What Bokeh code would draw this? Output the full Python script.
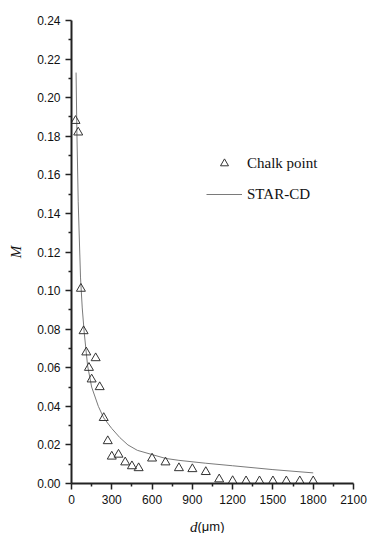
from bokeh.plotting import figure
from bokeh.layouts import column
from bokeh.models import (Range1d, FixedTicker, NumeralTickFormatter, Legend, LegendItem)
from bokeh.core.properties import value
from bokeh.embed import file_html
from bokeh.resources import INLINE

# Chalk point measurements (d in micrometres, M)
chalk_d = [30, 50, 70, 90, 110, 130, 150, 180, 210, 240, 270, 300, 350, 400, 450, 500,
           600, 700, 800, 900, 1000, 1100, 1200, 1300, 1400, 1500, 1600, 1700, 1800]
chalk_m = [0.188, 0.182, 0.101, 0.079, 0.068, 0.060, 0.054, 0.065, 0.050, 0.034, 0.022,
           0.014, 0.015, 0.011, 0.009, 0.008, 0.013, 0.011, 0.008, 0.0075, 0.006, 0.0022,
           0.0013, 0.0012, 0.0012, 0.0012, 0.0012, 0.0012, 0.0012]

# STAR-CD simulation curve
star_d = [34, 40, 50, 67, 80, 95, 120, 150, 200, 240, 300, 360, 420, 490, 600, 700, 800,
          1000, 1200, 1500, 1800]
star_m = [0.213, 0.183, 0.146, 0.107, 0.091, 0.078, 0.061, 0.050, 0.040, 0.034, 0.0285,
          0.0238, 0.0200, 0.0172, 0.0150, 0.0130, 0.0120, 0.0105, 0.0092, 0.0072, 0.0055]

x_ticks = [0, 300, 600, 900, 1200, 1500, 1800, 2100]
y_ticks = [0.00, 0.02, 0.04, 0.06, 0.08, 0.10, 0.12, 0.14, 0.16, 0.18, 0.20, 0.22, 0.24]

x_title_parts = ["d", "(μm)"]

p = figure(width=369, height=510, output_backend="svg", toolbar_location=None,
           x_range=Range1d(0, 2100), y_range=Range1d(0, 0.24),
           min_border_left=71, min_border_right=16, min_border_top=20, min_border_bottom=27)
p.outline_line_color = None
p.grid.visible = False
p.background_fill_color = "white"
p.border_fill_color = "white"

curve = p.line(star_d, star_m, line_color="#7a7a7a", line_width=1)
pts = p.scatter(chalk_d, chalk_m, marker="triangle", size=9, fill_color=None,
                line_color="#333333", line_width=1)

for ax in (p.xaxis[0], p.yaxis[0]):
    ax.axis_line_color = "#222222"
    ax.axis_line_width = 2
    ax.major_tick_line_color = "#222222"
    ax.minor_tick_line_color = "#222222"
    ax.major_tick_line_width = 1.5
    ax.minor_tick_line_width = 1.5
    ax.major_tick_out = 6
    ax.major_tick_in = 0
    ax.minor_tick_out = 3
    ax.minor_tick_in = 0
    ax.major_label_text_font = "Liberation Sans"
    ax.major_label_text_font_size = "12px"
    ax.major_label_text_color = "#111111"
    ax.major_label_standoff = 5
    ax.axis_label_text_font = "Liberation Serif"
    ax.axis_label_text_font_style = "italic"
    ax.axis_label_text_font_size = "15px"
    ax.axis_label_text_color = "#111111"

p.xaxis[0].ticker = FixedTicker(ticks=x_ticks,
                                minor_ticks=[t + 150 for t in x_ticks[:-1]])
p.yaxis[0].ticker = FixedTicker(ticks=y_ticks,
                                minor_ticks=[round(t + 0.01, 2) for t in y_ticks[:-1]])
p.yaxis[0].formatter = NumeralTickFormatter(format="0.00")
p.xaxis[0].formatter = NumeralTickFormatter(format="0")
p.yaxis[0].axis_label = "M"
p.yaxis[0].axis_label_standoff = 10

legend = Legend(items=[LegendItem(label="Chalk point", renderers=[pts]),
                       LegendItem(label="STAR-CD", renderers=[curve])],
                location=(135, 279), border_line_color=None, background_fill_alpha=0,
                padding=0, margin=0, spacing=11, glyph_width=36, glyph_height=20,
                label_height=20, label_standoff=5,
                label_text_font="Liberation Serif", label_text_font_size="15px",
                label_text_color="#111111")
p.add_layout(legend, "center")

# strip below the chart (frame aligned with the chart, shared x scale) holding
# the x-axis title: italic "d" + upright "(μm)", centred under the axis
t = figure(width=369, height=23, output_backend="svg", toolbar_location=None,
           x_range=p.x_range, y_range=Range1d(0, 23),
           x_axis_location=None, y_axis_location=None,
           min_border_left=71, min_border_right=16, min_border_top=0, min_border_bottom=0)
t.grid.visible = False
t.outline_line_color = None
t.background_fill_color = "white"
t.border_fill_color = "white"
mid = (x_ticks[0] + x_ticks[-1]) / 2
t.text(x=[mid], y=[7], text=[x_title_parts[0]], text_align="right",
       text_baseline="alphabetic", text_font=value("Liberation Serif"),
       text_font_style="italic", text_font_size="15px", text_color="#111111",
       x_offset=-15)
t.text(x=[mid], y=[7], text=[x_title_parts[1]], text_align="left",
       text_baseline="alphabetic", text_font=value("Liberation Sans"),
       text_font_size="13px", text_color="#111111", x_offset=-15)

layout = column(p, t, spacing=0)
open("out.html", "w").write(file_html(layout, INLINE))
